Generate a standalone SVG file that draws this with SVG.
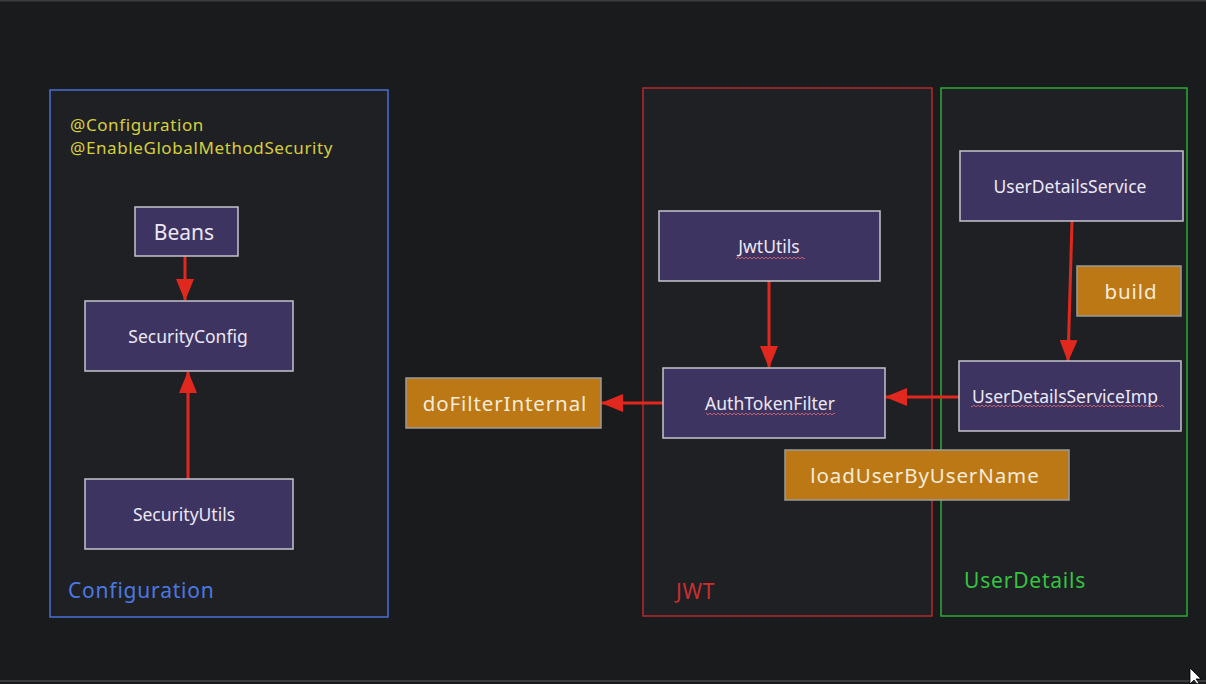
<svg xmlns="http://www.w3.org/2000/svg" width="1206" height="684" viewBox="0 0 1206 684">
<style>
.node rect.box{fill:#3e3461;stroke:#c4c4cc;stroke-width:1.5}
.op rect{fill:#bd7816;stroke:#9a9a9a;stroke-width:1.5}
.node text{font-family:"Noto Sans","Open Sans",sans-serif;font-size:17.5px;fill:#ece8f4;text-anchor:middle;dominant-baseline:central}
.op text{font-family:"Noto Sans","Open Sans",sans-serif;font-size:20.5px;letter-spacing:0.9px;fill:#f4ecd8;text-anchor:middle;dominant-baseline:central}
.conn line{stroke:#e0281e;stroke-width:3;marker-end:url(#ah)}
.lbl{font-family:"Noto Sans","Open Sans",sans-serif;font-size:21px;letter-spacing:0.8px}
.anno{font-family:"Noto Sans","Open Sans",sans-serif;font-size:17px;letter-spacing:0.6px;fill:#d6cf3e}
.node rect.sq{fill:url(#wave);stroke:none}
</style>
<defs>
<marker id="ah" markerUnits="userSpaceOnUse" markerWidth="22" markerHeight="18" viewBox="0 0 22 18" refX="21" refY="9" orient="auto">
<path d="M0,0 L22,9 L0,18 Z" fill="#e0281e"/>
</marker>
<pattern id="wave" patternUnits="userSpaceOnUse" width="4" height="4">
<polyline points="0,3 2,1 4,3" fill="none" stroke="#c4606e" stroke-width="1"/>
</pattern>
</defs>
<rect width="1206" height="684" fill="#1a1b1c"/>
<rect x="0" y="0" width="1206" height="1.5" fill="#3c3c3e"/>
<rect x="0" y="680" width="1206" height="2" fill="#3a3a3c"/>

<g id="configuration">
<rect x="50" y="90" width="338" height="527" fill="#1f2023" stroke="#4a6fd6" stroke-width="1.5"/>
<text class="anno" x="70" y="131">@Configuration</text>
<text class="anno" x="70" y="154">@EnableGlobalMethodSecurity</text>
<text class="lbl" x="68" y="598" fill="#4a78e2">Configuration</text>
</g>
<g id="jwt">
<rect x="643" y="88" width="289" height="528" fill="#1f2023" stroke="#b52a2e" stroke-width="1.5"/>
<text class="lbl" x="676" y="599" fill="#cc2e30">JWT</text>
</g>
<g id="userdetails">
<rect x="941" y="88" width="246" height="528" fill="#1f2023" stroke="#2eaa3a" stroke-width="1.5"/>
<text class="lbl" x="964" y="588" fill="#34c440">UserDetails</text>
</g>

<g id="connectors" class="conn">
<line x1="185" y1="256" x2="185" y2="300"/>
<line x1="188" y1="479" x2="188" y2="372"/>
<line x1="769" y1="281" x2="769" y2="367"/>
<line x1="663" y1="403" x2="602" y2="403"/>
<line x1="959" y1="397" x2="886" y2="397"/>
<line x1="1072" y1="221" x2="1068" y2="361"/>
</g>

<g id="beans" class="node"><rect class="box" x="135" y="207" width="103" height="49"/><text x="184" y="232" style="font-size:21px">Beans</text></g>
<g id="securityconfig" class="node"><rect class="box" x="85" y="301" width="208" height="70"/><text x="188" y="336">SecurityConfig</text></g>
<g id="securityutils" class="node"><rect class="box" x="85" y="479" width="208" height="70"/><text x="184" y="514">SecurityUtils</text></g>
<g id="jwtutils" class="node"><rect class="box" x="659" y="211" width="221" height="70"/><text x="769" y="246">JwtUtils</text><rect class="sq" x="736" y="255" width="69" height="4"/></g>
<g id="authtokenfilter" class="node"><rect class="box" x="663" y="368" width="222" height="70"/><text x="770" y="403">AuthTokenFilter</text><rect class="sq" x="706" y="412" width="129" height="4"/></g>
<g id="userdetailsservice" class="node"><rect class="box" x="960" y="151" width="223" height="70"/><text x="1070" y="186">UserDetailsService</text></g>
<g id="userdetailsserviceimp" class="node"><rect class="box" x="959" y="361" width="222" height="70"/><text x="1065" y="396">UserDetailsServiceImp</text><rect class="sq" x="971" y="405" width="193" height="4"/></g>
<g id="dofilterinternal" class="op"><rect x="406" y="378" width="195" height="50"/><text x="505" y="403">doFilterInternal</text></g>
<g id="build" class="op"><rect x="1077" y="266" width="104" height="50"/><text x="1131" y="291">build</text></g>
<g id="loaduserbyusername" class="op"><rect x="785" y="450" width="284" height="50"/><text x="925" y="475">loadUserByUserName</text></g>

<path d="M1190,668 L1190,684 L1194,680 L1197,684 L1199,683 L1196,679 L1201,679 Z" fill="#ffffff" stroke="#000" stroke-width="0.8"/>
</svg>
